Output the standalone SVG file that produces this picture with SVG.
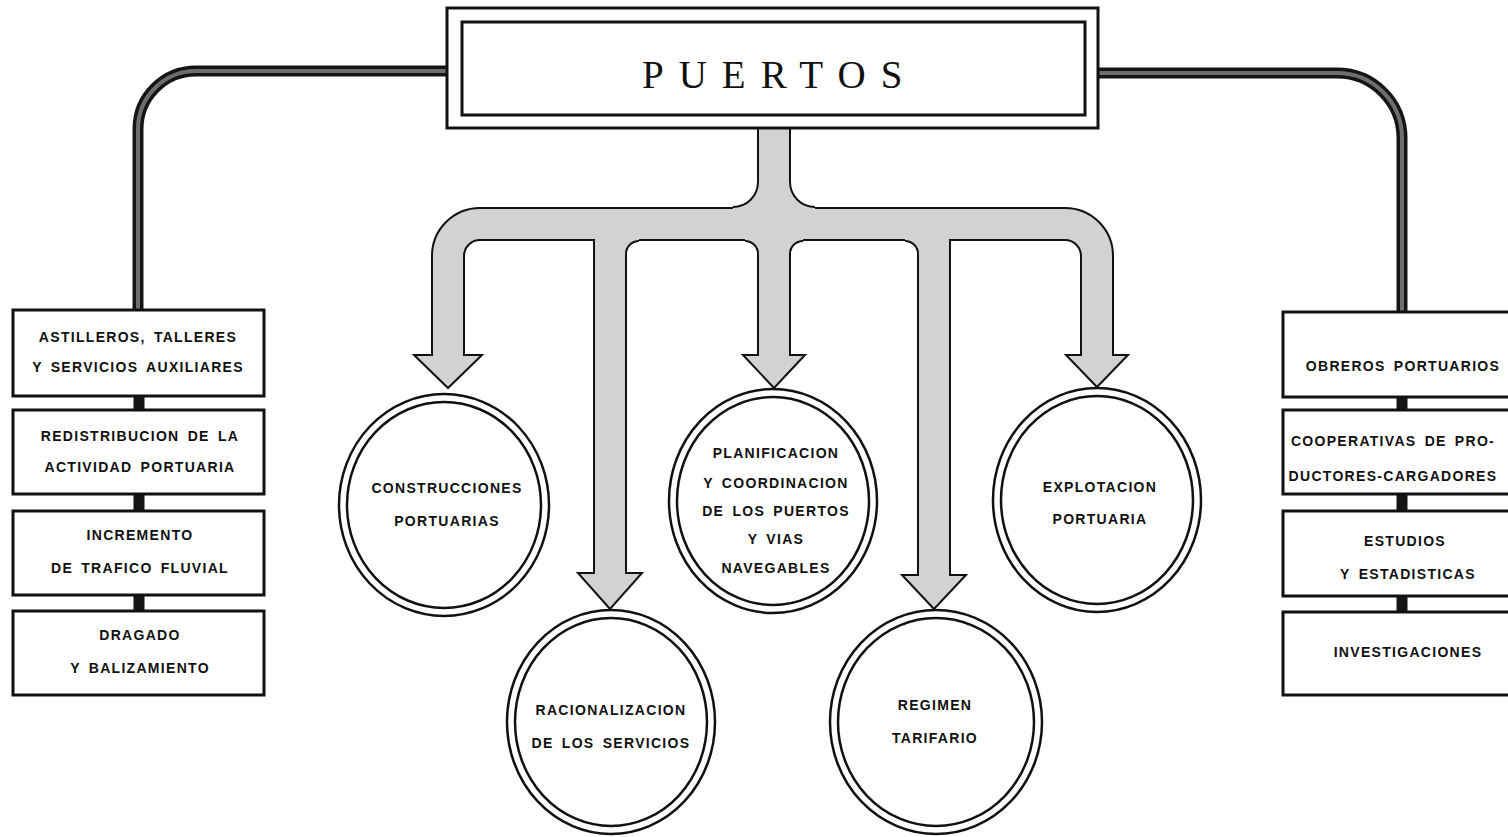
<svg xmlns="http://www.w3.org/2000/svg" width="1508" height="837" viewBox="0 0 1508 837">
<defs>
<style>
.bg{fill:#fff}
.box{fill:#fff;stroke:#111;stroke-width:3}
.t{font-family:"Liberation Sans",Arial,sans-serif;font-weight:bold;font-size:14px;letter-spacing:1.3px;word-spacing:3px;fill:#111;text-anchor:middle}
.title{font-family:"Liberation Serif","Times New Roman",serif;font-size:39px;letter-spacing:15px;fill:#111}
.ring{fill:#fff;stroke:#111;stroke-width:2.5}
.ring2{fill:none;stroke:#111;stroke-width:2.5}
.tube-o{fill:none;stroke:#111;stroke-width:34}
.tube-i{fill:none;stroke:#d2d2d2;stroke-width:30}
.fil-o{fill:#111;stroke:#111;stroke-width:4}
.fil-i{fill:#d2d2d2}
.head{fill:#d2d2d2;stroke:#111;stroke-width:2;stroke-linejoin:miter}
.link-o{fill:none;stroke:#151515;stroke-width:11}
.link-i{fill:none;stroke:#6e6e6e;stroke-width:4}
</style>
</defs>
<rect class="bg" x="0" y="0" width="1508" height="837"/>

<g id="connectors">
  <!-- dark side connectors -->
  <path class="link-o" d="M 449 71 L 196 71 A 58 58 0 0 0 138 129 L 138 310"/>
  <path class="link-i" d="M 449 71 L 196 71 A 58 58 0 0 0 138 129 L 138 310"/>
  <path class="link-o" d="M 1098 73 L 1337 73 A 65 65 0 0 1 1402 138 L 1402 312"/>
  <path class="link-i" d="M 1098 73 L 1337 73 A 65 65 0 0 1 1402 138 L 1402 312"/>
  <path class="link-o" d="M 139 396 L 139 410 M 139 494 L 139 511 M 139 595 L 139 611"/>
  <path class="link-o" d="M 1402 397 L 1402 410 M 1402 494 L 1402 511 M 1402 596 L 1402 612"/>

  <!-- gray tube arrows: outline layer -->
  <path class="tube-o" d="M 448 357 L 448 256 A 32 32 0 0 1 480 224 L 1065 224 A 32 32 0 0 1 1097 256 L 1097 357"/>
  <path class="tube-o" d="M 774 128 L 774 357"/>
  <path class="tube-o" d="M 610 224 L 610 575"/>
  <path class="tube-o" d="M 934 224 L 934 577"/>
  <path class="fil-o" d="M 759 182 A 26 26 0 0 1 733 208 L 759 208 Z"/>
  <path class="fil-o" d="M 789 182 A 26 26 0 0 0 815 208 L 789 208 Z"/>
  <path class="fil-o" d="M 745 240 A 14 14 0 0 1 759 254 L 759 240 Z"/>
  <path class="fil-o" d="M 803 240 A 14 14 0 0 0 789 254 L 789 240 Z"/>
  <path class="fil-o" d="M 639 240 A 14 14 0 0 0 625 254 L 625 240 Z"/>
  <path class="fil-o" d="M 905 240 A 14 14 0 0 1 919 254 L 919 240 Z"/>
  <!-- arrow heads -->
  <polygon class="head" points="414,355 482,355 448,388"/>
  <polygon class="head" points="743,355 805,355 774,388"/>
  <polygon class="head" points="1066,355 1128,355 1097,387"/>
  <polygon class="head" points="578,573 642,573 610,609"/>
  <polygon class="head" points="902,575 966,575 934,609"/>
  <!-- fill layer -->
  <path class="tube-i" d="M 448 357 L 448 256 A 32 32 0 0 1 480 224 L 1065 224 A 32 32 0 0 1 1097 256 L 1097 357"/>
  <path class="tube-i" d="M 774 126 L 774 357"/>
  <path class="tube-i" d="M 610 224 L 610 575"/>
  <path class="tube-i" d="M 934 224 L 934 577"/>
  <path class="fil-i" d="M 759 182 A 26 26 0 0 1 733 208 L 733 211 L 762 211 L 762 182 Z"/>
  <path class="fil-i" d="M 789 182 A 26 26 0 0 0 815 208 L 815 211 L 786 211 L 786 182 Z"/>
  <path class="fil-i" d="M 745 240 A 14 14 0 0 1 759 254 L 762 254 L 762 237 L 745 237 Z"/>
  <path class="fil-i" d="M 803 240 A 14 14 0 0 0 789 254 L 786 254 L 786 237 L 803 237 Z"/>
  <path class="fil-i" d="M 639 240 A 14 14 0 0 0 625 254 L 622 254 L 622 237 L 639 237 Z"/>
  <path class="fil-i" d="M 905 240 A 14 14 0 0 1 919 254 L 922 254 L 922 237 L 905 237 Z"/>
</g>

<g id="puertos">
  <rect class="box" x="447" y="8" width="651" height="120"/>
  <rect class="box" x="462" y="22" width="623" height="93"/>
  <text class="title" x="642" y="88">PUERTOS</text>
</g>

<g id="astilleros">
  <rect class="box" x="13" y="310" width="251" height="86"/>
  <text class="t" x="138" y="342">ASTILLEROS, TALLERES</text>
  <text class="t" x="138" y="372">Y SERVICIOS AUXILIARES</text>
</g>
<g id="redistribucion">
  <rect class="box" x="13" y="410" width="251" height="84"/>
  <text class="t" x="140" y="441">REDISTRIBUCION DE LA</text>
  <text class="t" x="140" y="472">ACTIVIDAD PORTUARIA</text>
</g>
<g id="incremento">
  <rect class="box" x="13" y="511" width="251" height="84"/>
  <text class="t" x="140" y="540">INCREMENTO</text>
  <text class="t" x="140" y="573">DE TRAFICO FLUVIAL</text>
</g>
<g id="dragado">
  <rect class="box" x="13" y="611" width="251" height="84"/>
  <text class="t" x="140" y="640">DRAGADO</text>
  <text class="t" x="140" y="673">Y BALIZAMIENTO</text>
</g>

<g id="obreros">
  <rect class="box" x="1283" y="312" width="240" height="85"/>
  <text class="t" x="1403" y="371">OBREROS PORTUARIOS</text>
</g>
<g id="cooperativas">
  <rect class="box" x="1283" y="410" width="240" height="84"/>
  <text class="t" x="1393" y="446">COOPERATIVAS DE PRO-</text>
  <text class="t" x="1393" y="481">DUCTORES-CARGADORES</text>
</g>
<g id="estudios">
  <rect class="box" x="1283" y="511" width="240" height="85"/>
  <text class="t" x="1405" y="546">ESTUDIOS</text>
  <text class="t" x="1408" y="579">Y ESTADISTICAS</text>
</g>
<g id="investigaciones">
  <rect class="box" x="1283" y="612" width="240" height="83"/>
  <text class="t" x="1408" y="657">INVESTIGACIONES</text>
</g>

<g id="construcciones">
  <ellipse class="ring" cx="444" cy="505" rx="105" ry="111"/>
  <ellipse class="ring2" cx="444" cy="505" rx="97" ry="103"/>
  <text class="t" x="447" y="493">CONSTRUCCIONES</text>
  <text class="t" x="447" y="526">PORTUARIAS</text>
</g>
<g id="racionalizacion">
  <ellipse class="ring" cx="611" cy="722" rx="104" ry="112"/>
  <ellipse class="ring2" cx="611" cy="722" rx="96" ry="104"/>
  <text class="t" x="611" y="715">RACIONALIZACION</text>
  <text class="t" x="611" y="748">DE LOS SERVICIOS</text>
</g>
<g id="planificacion">
  <ellipse class="ring" cx="773" cy="501" rx="104" ry="112"/>
  <ellipse class="ring2" cx="773" cy="501" rx="96" ry="104"/>
  <text class="t" x="776" y="458">PLANIFICACION</text>
  <text class="t" x="776" y="488">Y COORDINACION</text>
  <text class="t" x="776" y="516">DE LOS PUERTOS</text>
  <text class="t" x="776" y="544">Y VIAS</text>
  <text class="t" x="776" y="573">NAVEGABLES</text>
</g>
<g id="regimen">
  <ellipse class="ring" cx="936" cy="722" rx="106" ry="112"/>
  <ellipse class="ring2" cx="936" cy="722" rx="98" ry="104"/>
  <text class="t" x="935" y="710">REGIMEN</text>
  <text class="t" x="935" y="743">TARIFARIO</text>
</g>
<g id="explotacion">
  <ellipse class="ring" cx="1097" cy="500" rx="104" ry="112"/>
  <ellipse class="ring2" cx="1097" cy="500" rx="96" ry="104"/>
  <text class="t" x="1100" y="492">EXPLOTACION</text>
  <text class="t" x="1100" y="524">PORTUARIA</text>
</g>
</svg>
